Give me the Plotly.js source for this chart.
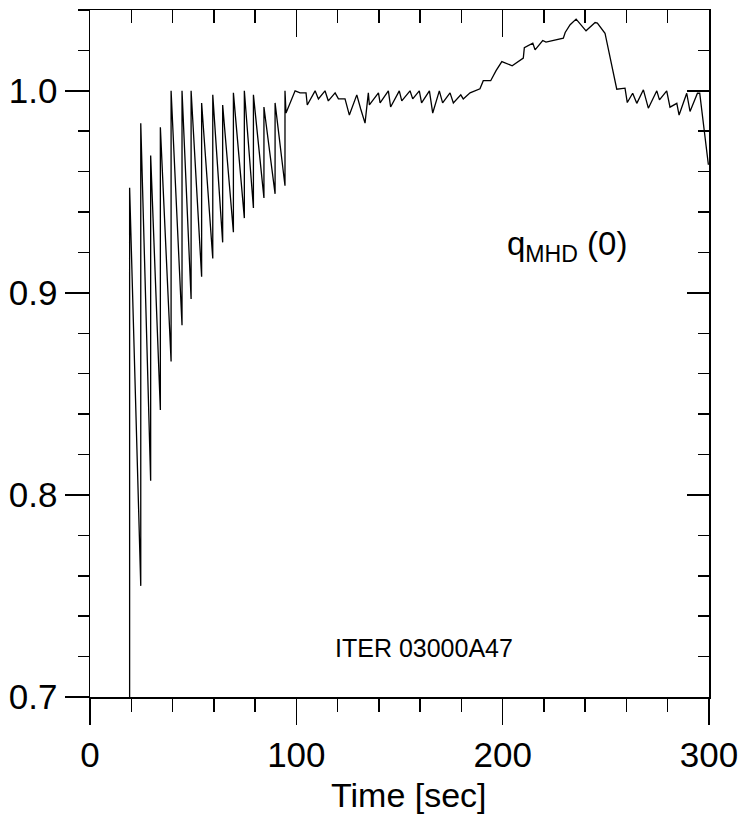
<!DOCTYPE html>
<html>
<head>
<meta charset="utf-8">
<script src="https://cdn.plot.ly/plotly-3.0.1.min.js"></script>
<style>html,body{margin:0;padding:0;background:#fff;}#chart{width:746px;height:819px;}</style>
</head>
<body>
<div id="chart"></div>
<script>
// Sawtooth phase (each sawtooth crash: bottom value then top value at the same time)
const sawTime = [19.2,19.2, 24.6,24.6, 29.4,29.4, 34.1,34.1, 39.3,39.3, 44.6,44.6, 49.0,49.0, 54.1,54.1,
                 59.5,59.5, 64.3,64.3, 69.5,69.5, 74.8,74.8, 79.2,79.2, 84.3,84.3, 89.7,89.7, 94.5,94.5];
const sawQ    = [0.62,0.952, 0.755,0.984, 0.807,0.968, 0.842,0.982, 0.866,1.000, 0.884,1.000, 0.897,1.000, 0.908,0.994,
                 0.917,0.998, 0.925,0.993, 0.930,0.999, 0.937,1.000, 0.942,0.998, 0.947,0.992, 0.949,0.994, 0.953,1.000];
// Later phase
const lateTime = [95.0,99.4,101.8,104.7,105.3,109.1,110.7,113.9,115.5,118.8,120.4,123.6,125.7,129.3,131.2,133.3,134.9,135.4,
                  139.8,140.6,144.6,145.7,149.9,151.1,155.1,156.4,159.6,160.7,164.5,166.1,169.3,170.9,174.5,176.1,179.7,180.9,
                  184.2,189.0,190.6,194.2,196.8,199.6,204.6,210.0,210.5,214.6,215.7,219.4,221.0,229.4,230.3,232.7,235.6,240.4,
                  244.8,245.9,249.6,255.3,259.3,260.4,263.0,265.0,268.2,270.6,274.7,276.0,279.5,281.1,284.4,285.5,289.2,290.8,
                  294.4,295.5,299.7];
const lateQ    = [0.989,1.000,0.999,0.999,0.993,1.000,0.996,1.000,0.995,0.999,0.996,0.996,0.988,0.998,0.991,0.984,0.999,0.993,
                  0.999,0.994,1.000,0.992,1.000,0.995,1.000,0.996,1.000,0.994,1.000,0.989,1.000,0.994,0.999,0.994,0.998,0.996,
                  0.999,1.001,1.005,1.005,1.010,1.0145,1.0124,1.0162,1.0214,1.0236,1.0203,1.0249,1.0241,1.0261,1.0289,1.0327,1.0355,1.0297,
                  1.0338,1.0335,1.0285,1.0008,1.0013,0.9942,0.9988,0.9938,1.0005,0.9914,1.000,0.9955,1.000,0.9919,0.9938,0.988,0.9988,0.9898,
                  0.9988,0.9988,0.9634];
const xTickVals = [0, 100, 200, 300];
const xTickText = ['0', '100', '200', '300'];
const yTickVals = [0.7, 0.8, 0.9, 1.0];
const yTickText = ['0.7', '0.8', '0.9', '1.0'];

const timeSec = sawTime.concat(lateTime);
const qMHD = sawQ.concat(lateQ);

const FONT = 'Liberation Sans, Arial, Helvetica, sans-serif';

const traces = [
  {x: timeSec, y: qMHD, type: 'scatter', mode: 'lines',
   line: {color: '#000', width: 1.3}, hoverinfo: 'skip', showlegend: false},
  {x: timeSec, y: qMHD, type: 'scatter', mode: 'lines', xaxis: 'x2', yaxis: 'y2',
   line: {color: 'rgba(0,0,0,0)', width: 0}, hoverinfo: 'skip', showlegend: false}
];

const common = {showgrid: false, zeroline: false, showline: true, linecolor: '#000', linewidth: 1.5,
                tickcolor: '#000', tickwidth: 1.5};

const layout = {
  width: 746, height: 819,
  margin: {l: 90, r: 37, t: 10, b: 122},
  paper_bgcolor: '#fff', plot_bgcolor: '#fff',
  font: {family: FONT, color: '#000'},
  xaxis: Object.assign({}, common, {
    range: [0, 300], tickmode: 'array', tickvals: xTickVals, ticktext: xTickText,
    ticks: 'outside', ticklen: 26, tickfont: {size: 35, family: FONT, color: '#000'},
    minor: {dtick: 20, ticks: 'outside', ticklen: 13, tickcolor: '#000', tickwidth: 1.5},
    mirror: false
  }),
  yaxis: Object.assign({}, common, {
    range: [0.7, 1.04], tickmode: 'array', tickvals: yTickVals, ticktext: yTickText,
    ticks: 'outside', ticklen: 24, tickfont: {size: 35, family: FONT, color: '#000'},
    minor: {dtick: 0.02, tick0: 0.7, ticks: 'outside', ticklen: 11, tickcolor: '#000', tickwidth: 1.5},
    mirror: false
  }),
  xaxis2: Object.assign({}, common, {
    overlaying: 'x', side: 'top', anchor: 'y2', range: [0, 300], tickmode: 'array', tickvals: xTickVals,
    showticklabels: false, ticks: 'inside', ticklen: 27,
    minor: {dtick: 20, ticks: 'inside', ticklen: 13, tickcolor: '#000', tickwidth: 1.5}
  }),
  yaxis2: Object.assign({}, common, {
    overlaying: 'y', side: 'right', anchor: 'x2', range: [0.7, 1.04], tickmode: 'array', tickvals: yTickVals,
    showticklabels: false, ticks: 'inside', ticklen: 22,
    minor: {dtick: 0.02, tick0: 0.7, ticks: 'inside', ticklen: 11, tickcolor: '#000', tickwidth: 1.5}
  }),
  annotations: [
    {text: 'Time [sec]', xref: 'paper', yref: 'paper', x: 0.516, y: -0.143, xanchor: 'center', yanchor: 'middle',
     showarrow: false, font: {size: 34, family: FONT, color: '#000'}},
    {text: 'q<sub>MHD</sub> (0)', xref: 'paper', yref: 'paper', x: 0.771, y: 0.656, xanchor: 'center', yanchor: 'middle',
     showarrow: false, font: {size: 33, family: FONT, color: '#000'}},
    {text: 'ITER 03000A47', xref: 'paper', yref: 'paper', x: 0.539, y: 0.0713, xanchor: 'center', yanchor: 'middle',
     showarrow: false, font: {size: 25, family: FONT, color: '#000'}}
  ]
};

Plotly.newPlot('chart', traces, layout, {displayModeBar: false, staticPlot: true});
</script>
</body>
</html>
